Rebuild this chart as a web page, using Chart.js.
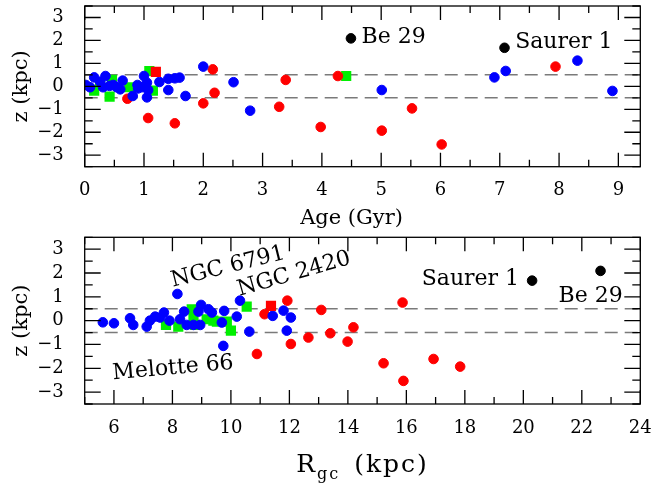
<!DOCTYPE html>
<html lang="en">
<head>
<meta charset="UTF-8">
<title>Cluster heights: z vs Age and Rgc</title>
<script src="https://cdn.jsdelivr.net/npm/chart.js"></script>
<style>
    body { margin: 0; background: #fff; }
    #wrap { position: relative; width: 657px; height: 484px; }
    canvas { position: absolute; left: 0; }
</style>
</head>
<body>
<div id="wrap">
    <canvas id="ageChart" width="657" height="230" style="top:0"></canvas>
    <canvas id="rgcChart" width="657" height="254" style="top:230px"></canvas>
</div>
<script>
// ---- top panel: z vs age ----
const ageBlue = [[0.02,0.06],[0.16,0.39],[0.09,-0.04],[0.35,0.45],[0.31,-0.04],[0.48,0.06],[0.6,-0.13],
    [0.64,0.25],[0.81,-0.42],[0.89,0.06],[1.0,0.45],[1.05,0.16],[1.07,-0.16],[1.05,-0.48],[0.96,-0.04],
    [1.26,0.19],[1.41,-0.16],[1.41,0.33],[1.52,0.35],[1.6,0.38],[1.7,-0.42],[2.0,0.86],[2.51,0.18],
    [2.79,-1.06],[0.26,0.2],[0.42,0.02],[0.54,-0.04],[0.9,-0.09],[5.01,-0.16],[6.91,0.39],[7.1,0.67],
    [8.31,1.12],[8.9,-0.2]];
const ageRed = [[0.72,-0.54],[1.07,-1.38],[1.52,-1.61],[2.0,-0.74],[2.16,0.74],[2.19,-0.28],[3.28,-0.89],
    [3.39,0.28],[3.98,-1.77],[4.27,0.45],[5.01,-1.93],[5.52,-0.96],[6.02,-2.53],[7.94,0.86]];
const ageRedSq = [[1.2,0.63]];
const ageGreen = [[1.09,0.67],[4.41,0.45],[0.16,-0.19],[0.42,-0.45],[0.75,-0.04],[1.15,-0.19],
    [0.26,0.16],[0.46,0.28]];
const ageBlack = [[4.49,2.09],[7.08,1.68]];

// ---- bottom panel: z vs Rgc ----
const rgcBlue = [[5.62,-0.07],[6.0,-0.11],[6.55,0.1],[6.66,-0.18],[7.12,-0.25],[7.23,0.0],[7.41,0.17],
    [7.58,0.13],[7.71,0.34],[7.9,0.0],[8.17,1.12],[8.4,0.38],[8.26,0.06],[8.49,-0.18],[8.72,-0.18],
    [8.89,0.38],[8.98,0.66],[8.95,-0.18],[9.23,0.48],[9.35,0.34],[9.77,0.41],[9.69,-0.08],[9.74,-1.06],
    [10.2,0.17],[10.31,0.84],[10.63,-0.46],[11.43,0.2],[11.8,0.42],[12.05,0.13],[11.91,-0.42]];
const rgcRed = [[11.15,0.27],[10.89,-1.4],[11.93,0.84],[12.05,-0.98],[13.09,0.45],[12.65,-0.71],
    [13.4,-0.53],[13.99,-0.88],[14.19,-0.28],[15.22,-1.79],[15.9,-2.53],[15.87,0.76],[16.93,-1.61],
    [17.84,-1.93]];
const rgcRedSq = [[11.37,0.62]];
const rgcGreen = [[7.78,-0.18],[8.2,-0.25],[8.66,0.48],[8.72,0.17],[8.77,-0.18],[9.17,0.06],[9.4,0.0],
    [9.52,-0.04],[10.0,-0.42],[10.54,0.59],[9.86,-0.04]];
const rgcBlack = [[20.3,1.68],[22.64,2.09]];

// axis ticks and labels
const ageTicks = [0,1,2,3,4,5,6,7,8,9];
const rgcTicks = [6,8,10,12,14,16,18,20,22,24];
const zTicks = [-3,-2,-1,0,1,2,3];
const zBand = 0.5;

const ageNotes = [
    { text: 'Be 29', x: 4.67, z: 2.14, angle: 0, align: 'left' },
    { text: 'Saurer 1', x: 7.26, z: 1.92, angle: 0, align: 'left' }
];
const rgcNotes = [
    { text: 'NGC 6791', x: 9.9, z: 2.25, angle: -14, align: 'center' },
    { text: 'NGC 2420', x: 12.16, z: 1.95, angle: -16, align: 'center' },
    { text: 'Melotte 66', x: 8.02, z: -2.0, angle: -5, align: 'center' },
    { text: 'Saurer 1', x: 18.19, z: 1.75, angle: 0, align: 'center' },
    { text: 'Be 29', x: 22.3, z: 1.04, angle: 0, align: 'center' }
];

const FONT = '"DejaVu Serif", "Liberation Serif", serif';
const toPts = arr => arr.map(p => ({ x: p[0], y: p[1] }));

function datasets(black, redSq, blue, red, green, xMin, xMax) {
    const dot = (data, color) => ({ data: toPts(data), backgroundColor: color, borderColor: color,
        borderWidth: 1, pointRadius: 4.8, pointStyle: 'circle' });
    const sq = (data, color) => ({ data: toPts(data), backgroundColor: color, borderColor: color,
        borderWidth: 0, pointRadius: 7.2, pointStyle: 'rect' });
    const dash = z => ({ type: 'line', data: [{ x: xMin, y: z }, { x: xMax, y: z }],
        borderColor: '#7a7a7a', borderWidth: 1.5, borderDash: [13, 7], pointRadius: 0, fill: false });
    return [dot(black, '#000000'), sq(redSq, '#ff0000'), dot(blue, '#0000ff'), dot(red, '#ff0000'),
        sq(green, '#00f000'), dash(zBand), dash(-zBand)];
}

// box with inward major/minor ticks, titles and labels
function framePlugin(cfg) {
    return {
        id: 'frame',
        afterDraw(chart) {
            const { ctx, chartArea: a, scales: { x, y } } = chart;
            ctx.save();
            ctx.strokeStyle = '#000';
            ctx.lineWidth = 1.3;
            ctx.strokeRect(a.left, a.top, a.right - a.left, a.bottom - a.top);
            ctx.beginPath();
            for (let v = cfg.xFirst; v <= cfg.xMax + 1e-6; v += cfg.xStep) {
                const px = x.getPixelForValue(v);
                const major = cfg.xMajor.includes(Math.round(v * 100) / 100);
                const len = major ? 14 : 7;
                ctx.moveTo(px, a.bottom); ctx.lineTo(px, a.bottom - len);
                ctx.moveTo(px, a.top); ctx.lineTo(px, a.top + len);
            }
            for (let v = -3.5; v <= 3.5; v += 0.5) {
                const py = y.getPixelForValue(v);
                const len = Number.isInteger(v) ? 16 : 8;
                ctx.moveTo(a.left, py); ctx.lineTo(a.left + len, py);
                ctx.moveTo(a.right, py); ctx.lineTo(a.right - len, py);
            }
            ctx.stroke();

            ctx.fillStyle = '#000';
            // y title
            ctx.font = '21px ' + FONT;
            ctx.textAlign = 'center';
            ctx.textBaseline = 'middle';
            ctx.save();
            ctx.translate(22, (a.top + a.bottom) / 2);
            ctx.rotate(-Math.PI / 2);
            ctx.fillText('z (kpc)', 0, 0);
            ctx.restore();
            // x title
            cfg.drawXTitle(ctx, chart);

            // notes
            ctx.font = '22px ' + FONT;
            ctx.textBaseline = 'middle';
            cfg.notes.forEach(n => {
                ctx.save();
                ctx.translate(x.getPixelForValue(n.x), y.getPixelForValue(n.z));
                ctx.rotate(n.angle * Math.PI / 180);
                ctx.textAlign = n.align;
                ctx.fillText(n.text, 0, 0);
                ctx.restore();
            });
            ctx.restore();
        }
    };
}

function makeChart(id, opts) {
    const ctx = document.getElementById(id).getContext('2d');
    return new Chart(ctx, {
        type: 'scatter',
        data: { datasets: datasets(...opts.sets, opts.xMin, opts.xMax) },
        options: {
            responsive: false,
            animation: false,
            events: [],
            layout: { autoPadding: false, padding: { left: 0, right: 657 - 640.3, top: opts.top, bottom: 0 } },
            plugins: { legend: { display: false }, tooltip: { enabled: false } },
            scales: {
                x: {
                    type: 'linear', min: opts.xMin, max: opts.xMax,
                    grid: { display: false, drawTicks: false }, border: { display: false },
                    afterBuildTicks: s => { s.ticks = opts.xTicks.map(v => ({ value: v })); },
                    afterFit: s => { s.height = opts.xHeight; s.paddingLeft = 0; s.paddingRight = 0; },
                    ticks: { padding: opts.xPad, color: '#000', font: { family: FONT, size: 18 },
                        maxRotation: 0, autoSkip: false }
                },
                y: {
                    type: 'linear', min: -3.5, max: 3.5,
                    grid: { display: false, drawTicks: false }, border: { display: false },
                    afterBuildTicks: s => { s.ticks = zTicks.map(v => ({ value: v })); },
                    afterFit: s => { s.width = 84.7; s.paddingTop = 0; s.paddingBottom = 0; },
                    ticks: { padding: 21, color: '#000', font: { family: FONT, size: 18 }, autoSkip: false,
                        callback: v => v < 0 ? '\u2212' + Math.abs(v) : String(v) }
                }
            }
        },
        plugins: [framePlugin(opts.frame)]
    });
}

makeChart('ageChart', {
    sets: [ageBlack, ageRedSq, ageBlue, ageRed, ageGreen],
    xMin: 0, xMax: 9.37, xTicks: ageTicks, top: 6, xHeight: 63.3, xPad: 12.5,
    frame: {
        xFirst: 0, xStep: 0.5, xMax: 9.37, xMajor: ageTicks, notes: ageNotes,
        drawXTitle(ctx, chart) {
            const x = chart.scales.x;
            ctx.font = '21px ' + FONT;
            ctx.textAlign = 'center';
            ctx.textBaseline = 'middle';
            // centred under the labelled 0-9 range
            ctx.fillText('Age (Gyr)', (x.getPixelForValue(0) + x.getPixelForValue(9)) / 2, 219);
        }
    }
});

makeChart('rgcChart', {
    sets: [rgcBlack, rgcRedSq, rgcBlue, rgcRed, rgcGreen],
    xMin: 5, xMax: 24, xTicks: rgcTicks, top: 7.3, xHeight: 80, xPad: 14,
    frame: {
        xFirst: 5, xStep: 1, xMax: 24, xMajor: rgcTicks, notes: rgcNotes,
        drawXTitle(ctx, chart) {
            const a = chart.chartArea;
            const big = '25px ' + FONT, small = '16px ' + FONT;
            ctx.textBaseline = 'alphabetic';
            ctx.textAlign = 'left';
            ctx.font = big;
            ctx.letterSpacing = '2px';
            const wR = ctx.measureText('R').width, wRest = ctx.measureText('(kpc)').width;
            ctx.font = small;
            const wSub = ctx.measureText('gc').width;
            const gap = 14;
            let x0 = (a.left + a.right) / 2 - (wR + wSub + gap + wRest) / 2;
            const base = 242;
            ctx.font = big; ctx.fillText('R', x0, base); x0 += wR;
            ctx.font = small; ctx.fillText('gc', x0, base + 7); x0 += wSub + gap;
            ctx.font = big; ctx.fillText('(kpc)', x0, base);
            ctx.letterSpacing = '0px';
        }
    }
});
</script>
</body>
</html>
